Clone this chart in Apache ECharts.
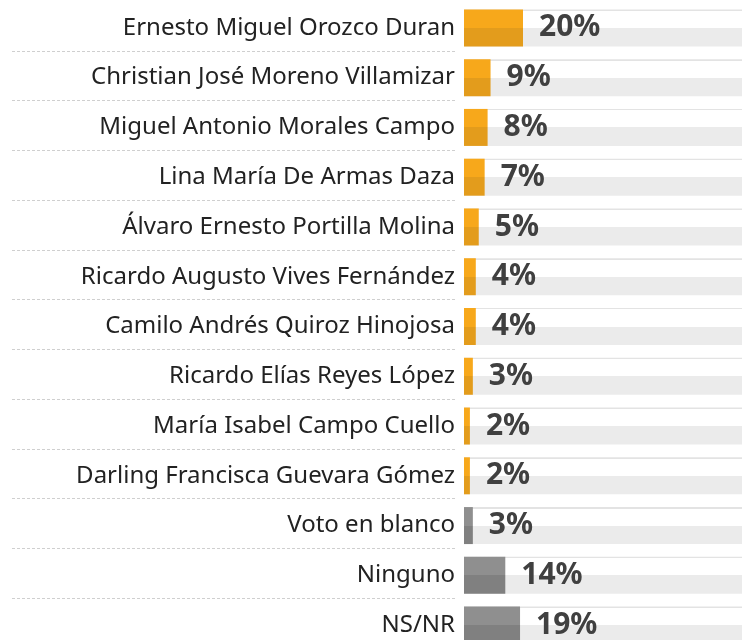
<!DOCTYPE html>
<html>
<head>
<meta charset="utf-8">
<script src="https://cdn.jsdelivr.net/npm/echarts@6/dist/echarts.min.js"></script>
<style>
	html, body { margin: 0; padding: 0; background: #fff; }
	#main { width: 742px; height: 640px; }
</style>
</head>
<body>
<div id="main"></div>
<script>
var candidatos = [
	'Ernesto Miguel Orozco Duran',
	'Christian José Moreno Villamizar',
	'Miguel Antonio Morales Campo',
	'Lina María De Armas Daza',
	'Álvaro Ernesto Portilla Molina',
	'Ricardo Augusto Vives Fernández',
	'Camilo Andrés Quiroz Hinojosa',
	'Ricardo Elías Reyes López',
	'María Isabel Campo Cuello',
	'Darling Francisca Guevara Gómez',
	'Voto en blanco',
	'Ninguno',
	'NS/NR'
];
var porcentajes = [20, 9, 8, 7, 5, 4, 4, 3, 2, 2, 3, 14, 19];
// primeros 10 son candidatos (naranja), el resto gris
var numCandidatos = 10;

function split(top, bottom) {
	return new echarts.graphic.LinearGradient(0, 0, 0, 1, [
		{offset: 0, color: top},
		{offset: 0.5, color: top},
		{offset: 0.5, color: bottom},
		{offset: 1, color: bottom}
	]);
}

var fuente = 'Noto Sans';
var myChart = echarts.init(document.getElementById('main'));

var datos = porcentajes.map(function(v, i) {
	var naranja = i < numCandidatos;
	return {
		value: v,
		itemStyle: {
			color: naranja ? split('#f7a81b', '#e39c1c') : split('#8f8f8f', '#808080')
		}
	};
});

var option = {
	animation: false,
	grid: [
		{left: 464, right: -17, top: 3, height: 647, outerBoundsMode: 'none'},
		{left: 12, width: 445, top: 1, height: 647, outerBoundsMode: 'none'}
	],
	xAxis: [
		{gridIndex: 0, type: 'value', min: 0, max: 100, show: false},
		{gridIndex: 1, type: 'value', min: 0, max: 1, show: false}
	],
	yAxis: [
		{
			gridIndex: 0,
			type: 'category',
			inverse: true,
			data: candidatos,
			axisLine: {show: false},
			axisTick: {show: false},
			splitLine: {show: false},
			axisLabel: {
				margin: 9,
				fontFamily: fuente,
				fontSize: 24,
				color: '#222222'
			}
		},
		{
			gridIndex: 1,
			type: 'category',
			inverse: true,
			data: candidatos,
			axisLine: {show: false},
			axisTick: {show: false},
			axisLabel: {show: false},
			splitLine: {
				show: true,
				interval: function(index) { return index > 0; },
				lineStyle: {color: '#cfcfcf', type: [3, 2], width: 1}
			}
		}
	],
	series: [
		{
			type: 'bar',
			xAxisIndex: 0,
			yAxisIndex: 0,
			barWidth: 37,
			data: datos,
			showBackground: true,
			backgroundStyle: {
				color: new echarts.graphic.LinearGradient(0, 0, 0, 1, [
					{offset: 0, color: '#e3e3e3'},
					{offset: 0.04, color: '#e3e3e3'},
					{offset: 0.04, color: '#ffffff'},
					{offset: 0.5, color: '#ffffff'},
					{offset: 0.5, color: '#ebebeb'},
					{offset: 1, color: '#ebebeb'}
				])
			},
			label: {
				show: true,
				position: 'right',
				distance: 16,
				formatter: '{c}%',
				fontFamily: fuente,
				fontSize: 30,
				fontWeight: 'bold',
				color: '#404040'
			}
		}
	]
};

myChart.setOption(option);
</script>
</body>
</html>
